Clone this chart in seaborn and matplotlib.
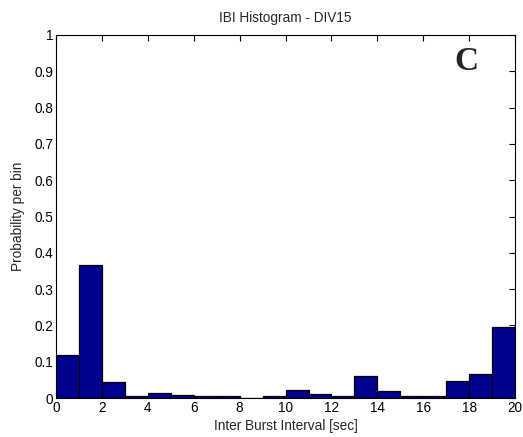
import numpy as np
import pandas as pd
import matplotlib
matplotlib.use("Agg")
import matplotlib.pyplot as plt
import seaborn as sns

# === Histogram data ===
bin_edges = list(range(0, 21))
bin_probs = [0.119, 0.366, 0.045, 0.007, 0.013, 0.008, 0.0045, 0.0045, 0.0012, 0.0045,
             0.022, 0.010, 0.0045, 0.060, 0.019, 0.007, 0.007, 0.048, 0.066, 0.196]
x_ticks = list(range(0, 21, 2))
y_ticks = [0, 0.1, 0.2, 0.3, 0.4, 0.5, 0.6, 0.7, 0.8, 0.9, 1]
y_tick_labels = ["0", "0.1", "0.2", "0.3", "0.4", "0.5", "0.6", "0.7", "0.8", "0.9", "1"]

df = pd.DataFrame({
    "ibi": [e + 0.5 for e in bin_edges[:-1]],
    "prob": bin_probs,
})

sns.set_style("white")
plt.rcParams["font.family"] = ["Liberation Sans", "DejaVu Sans"]

fig = plt.figure(figsize=(5.23, 4.37), dpi=100)
ax = fig.add_axes([0.107, 0.089, 0.878, 0.831])

sns.histplot(data=df, x="ibi", weights="prob", bins=bin_edges, stat="count",
             color="#00008F", alpha=1, edgecolor="black", linewidth=0.9, ax=ax)

ax.set_xlim(0, 20)
ax.set_ylim(0, 1)
ax.set_xticks(x_ticks)
ax.set_xticklabels([str(t) for t in x_ticks])
ax.set_yticks(y_ticks)
ax.set_yticklabels(y_tick_labels)
ax.tick_params(direction="in", top=True, right=True, length=4, width=0.8,
               labelsize=9.8, pad=2, colors="black")
for s in ax.spines.values():
    s.set_visible(True)
    s.set_color("black")
    s.set_linewidth(0.8)

ax.set_title("IBI Histogram - DIV15", fontsize=9.8, pad=9)
ax.set_xlabel("Inter Burst Interval [sec]", fontsize=9.8, labelpad=3)
ax.set_ylabel("Probability per bin", fontsize=9.8, labelpad=7)

ax.text(17.87, 0.928, "C", fontsize=24, fontweight="bold",
        family="Liberation Serif", ha="center", va="center")

fig.savefig("out.png", dpi=100, facecolor="white")
